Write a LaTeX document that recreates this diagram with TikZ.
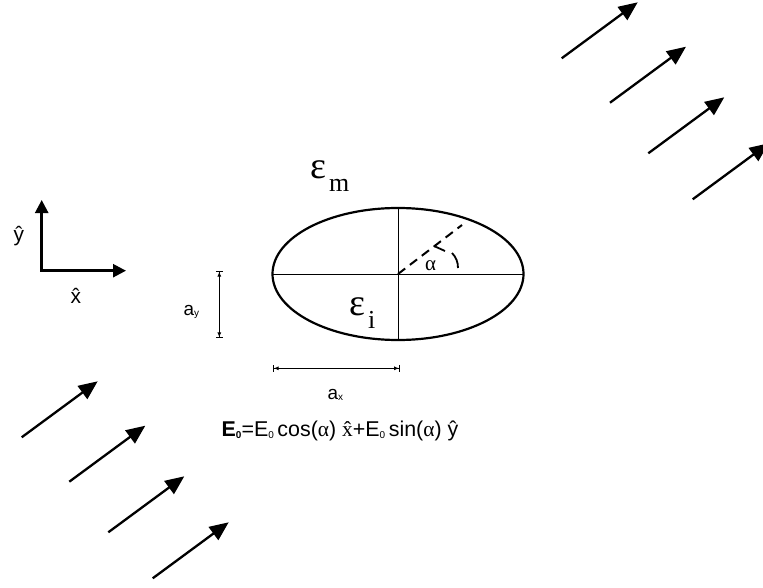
\documentclass[tikz,border=0pt]{standalone}
\usepackage{fontspec}
\setmainfont{Liberation Sans}
\newfontfamily\serif{Liberation Serif}
\usetikzlibrary{arrows.meta}

% small lowered index for sans labels
\newcommand{\lowidx}[1]{\raisebox{-1.5bp}{\fontsize{10}{10}\selectfont #1}}
% permittivity symbol with its index
\newcommand{\perm}[1]{{\serif\fontsize{38}{40}\selectfont ε\kern3bp\raisebox{-13bp}{\fontsize{26}{26}\selectfont #1}}}

\begin{document}
\begin{tikzpicture}[
    % pixel-like units, y pointing down
    x=1bp, y=-1bp,
    % Text styles
    lbl/.style={inner sep=0pt, anchor=base west, font=\fontsize{19}{21}\selectfont},
    axlbl/.style={lbl, font=\fontsize{21}{23}\selectfont},
    medium/.style={inner sep=0pt, anchor=base west},
    % Line styles
    wave/.style={line width=2.3bp, -{Triangle[length=19bp, width=16bp]}},
    axis/.style={line width=2.5bp, line join=miter,
        {Triangle[length=13bp, width=13bp]}-{Triangle[length=13bp, width=13bp]}},
    dim/.style={line width=0.9bp,
        {Bar[width=7bp]Latex[length=5bp, width=4bp]}-{Latex[length=5bp, width=4bp]Bar[width=7bp]}},
    thinline/.style={line width=1bp},
]
    \useasboundingbox (0,0) rectangle (763,588);

    % --- INCIDENT FIELD ---
    \foreach \x/\y [count=\i] in {561.7/58.3, 610/102.7, 648.3/153.3, 692.7/199.3}
        \draw[wave] (\x,\y) coordinate (top\i) -- ++(76,-56);
    \foreach \x/\y [count=\i] in {21.7/437.3, 69.3/481.7, 108.3/532.3, 152.7/578.3}
        \draw[wave] (\x,\y) coordinate (bot\i) -- ++(76,-56);

    % --- AXES ---
    \coordinate (o) at (41.7,270.7);
    \draw[axis] (41.7,200) -- (o) -- (126,270.7);
    \node[axlbl] (yhat) at (13.5,241) {ŷ};
    \node[axlbl] (xhat) at (70.5,303) {\^{x}};

    % --- ELLIPSE ---
    \coordinate (c) at (398,274);
    \draw[line width=2.2bp] (c) ellipse [x radius=125.5, y radius=66];
    \draw[thinline] (272.5,274) -- (523.5,274);
    \draw[thinline] (398,208) -- (398,340);
    \draw[line width=2bp, dash pattern=on 9bp off 6bp] (c) -- ++(64,-49);
    % angle mark
    \draw[line width=1.8bp] (458,268) .. controls (458,262) and (456,257) .. (452,253);
    \draw[line width=1.8bp] (445,251) -- (434,246);

    \node[medium] (em) at (310,178.3) {\perm{m}};
    \node[medium] (ei) at (349,315) {\perm{i}};
    \node[inner sep=0pt, font=\serif\fontsize{21}{22}\selectfont] (alpha) at (430.5,266) {α};

    % --- DIMENSIONS ---
    \draw[dim] (219.3,270.7) -- (219.3,338.3);
    \draw[dim] (272.7,368.3) -- (400,368.3);
    \node[lbl] (ay) at (183.5,315) {a\lowidx{y}};
    \node[lbl] (ax) at (327.5,399) {a\lowidx{x}};

    % --- FIELD EXPRESSION ---
    \node[lbl, font=\fontsize{21.5}{23}\selectfont] (field) at (221.5,436.7)
        {\textbf{E\lowidx{0}}=E\lowidx{0}\,cos({\serif α}) {\serif\^{x}}+E\lowidx{0}\,sin({\serif α}) ŷ};
\end{tikzpicture}
\end{document}
